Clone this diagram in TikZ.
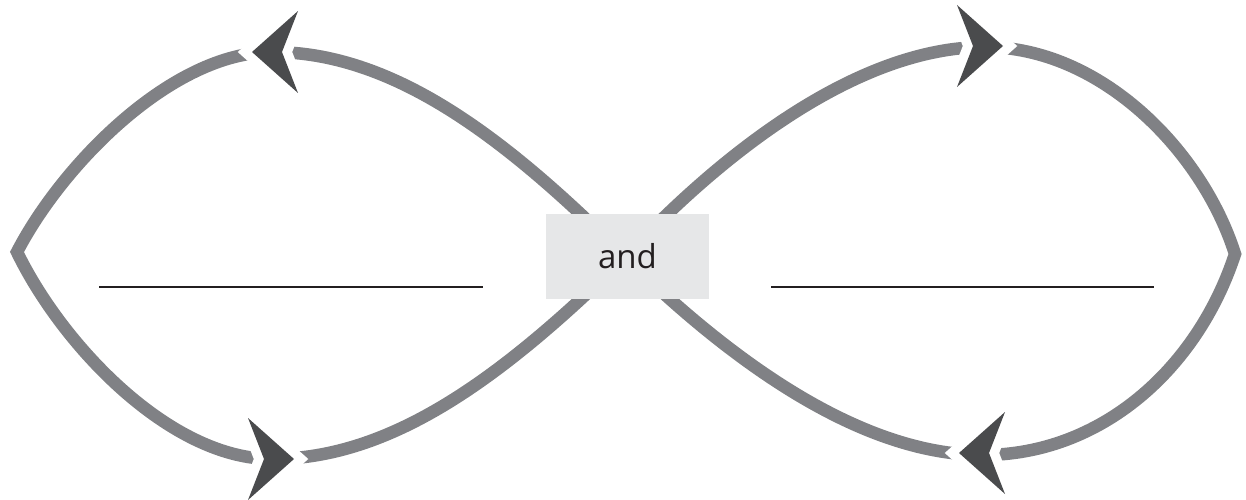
\documentclass[tikz,border=0pt]{standalone}
\usepackage{fontspec}
\setmainfont{Open Sans}
\definecolor{loopgray}{HTML}{808185}
\definecolor{arrowdark}{HTML}{4A4B4D}
\definecolor{boxgray}{HTML}{E6E7E8}
\definecolor{inkdark}{HTML}{231F20}
\begin{document}
\begin{tikzpicture}[x=1pt,y=-1pt,
  loop/.style={draw=loopgray, line width=12.5pt, line join=miter},
  blank/.style={draw=inkdark, line width=1.5pt},
  centerbox/.style={fill=boxgray, minimum width=163pt, minimum height=85pt, inner sep=0pt, text=inkdark, font=\fontsize{33}{39}\selectfont},
  pics/chev/.style={code={
    \path[draw=white, line width=19pt, line join=miter, miter limit=2]
      (0,0) -- (-46,-41) -- (-30,0) -- (-46,41) -- cycle;
    \path[fill=arrowdark] (0,0) -- (-46,-41) -- (-30,0) -- (-46,41) -- cycle;
  }}]
\useasboundingbox (0,0) rectangle (1246,500);
% key points
\coordinate (C) at (625,257);
\coordinate (TL) at (272,52);
\coordinate (L) at (17,252);
\coordinate (BL) at (272,459);
\coordinate (TR) at (985,47);
\coordinate (R) at (1235,254);
\coordinate (BR) at (983,455);
% left lobe
\draw[loop] (C) .. controls (500,132) and (390,52) .. (TL)
  .. controls (172,52) and (62,165) .. (L)
  .. controls (62,345) and (170,459) .. (BL)
  .. controls (390,459) and (500,380) .. (C);
% right lobe
\draw[loop] (C) .. controls (725,150) and (860,47) .. (TR)
  .. controls (1100,47) and (1202,150) .. (R)
  .. controls (1197,370) and (1100,455) .. (BR)
  .. controls (860,455) and (730,360) .. (C);
% arrowheads
\pic[rotate=180] at (252,52) {chev};
\pic at (294,459) {chev};
\pic at (1003,46) {chev};
\pic[rotate=180] at (959,453) {chev};
% blanks
\coordinate (l1) at (99,287);
\coordinate (l2) at (483,287);
\coordinate (r1) at (771,287);
\coordinate (r2) at (1154,287);
\draw[blank] (l1) -- (l2);
\draw[blank] (r1) -- (r2);
% centre box
\node[centerbox] (and) at (627.5,256.5) {and};
\end{tikzpicture}
\end{document}
